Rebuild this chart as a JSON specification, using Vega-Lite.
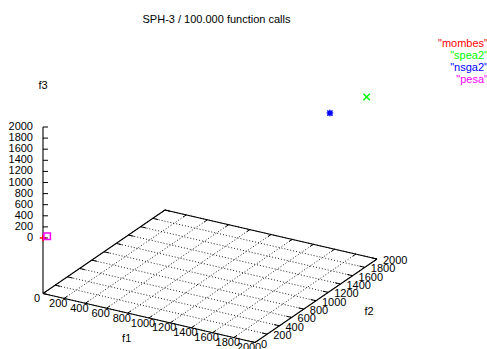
{
  "$schema": "https://vega.github.io/schema/vega-lite/v6.json",
  "width": 487,
  "height": 349,
  "padding": 0,
  "autosize": {"type": "none"},
  "config": {"view": {"stroke": null}, "font": "Liberation Sans"},
  "title": {"text": "SPH-3 / 100.000 function calls", "fontSize": 11, "fontWeight": "normal", "font": "Liberation Sans", "color": "#000", "anchor": "middle", "baseline": "middle", "offset": -18, "dx": -27, "dy": 13},
  "datasets": {
    "ticks": [{"v": 0}, {"v": 200}, {"v": 400}, {"v": 600}, {"v": 800}, {"v": 1000}, {"v": 1200}, {"v": 1400}, {"v": 1600}, {"v": 1800}, {"v": 2000}],
    "edges": [
      {"a1": 0, "a2": 0, "a3": -1000, "b1": 2000, "b2": 0, "b3": -1000},
      {"a1": 2000, "a2": 0, "a3": -1000, "b1": 2000, "b2": 2000, "b3": -1000},
      {"a1": 2000, "a2": 2000, "a3": -1000, "b1": 0, "b2": 2000, "b3": -1000},
      {"a1": 0, "a2": 2000, "a3": -1000, "b1": 0, "b2": 0, "b3": -1000},
      {"a1": 0, "a2": 0, "a3": -1000, "b1": 0, "b2": 0, "b3": 2000}
    ],
    "points": [
      {"series": "mombes", "f1": 0, "f2": 0, "f3": 0},
      {"series": "spea2", "f1": 1938, "f2": 1938, "f3": 1938},
      {"series": "nsga2", "f1": 1718, "f2": 1718, "f3": 1718},
      {"series": "pesa", "f1": 25, "f2": 25, "f3": 25}
    ],
    "axistitles": [
      {"label": "f1", "f1": 1060, "f2": -470, "f3": -1000},
      {"label": "f2", "f1": 2490, "f2": 1017, "f3": -1000},
      {"label": "f3", "f1": 0, "f2": 0, "f3": 2730}
    ]
  },
  "encoding": {
    "x": {"field": "x", "type": "quantitative", "scale": {"domain": [0, 487], "nice": false, "zero": false}, "axis": null},
    "y": {"field": "y", "type": "quantitative", "scale": {"domain": [0, 349], "nice": false, "zero": false, "reverse": true}, "axis": null}
  },
  "layer": [
    {
      "data": {"name": "ticks"},
      "transform": [
        {"calculate": "43 + 0.106*datum.v", "as": "x"},
        {"calculate": "293.5 + 0.0245*datum.v", "as": "y"},
        {"calculate": "43 + 0.106*datum.v + 0.061*2000", "as": "xb"},
        {"calculate": "293.5 + 0.0245*datum.v - 0.04175*2000", "as": "yb"}
      ],
      "mark": {"type": "rule", "color": "#222", "strokeWidth": 1, "strokeDash": [1, 2]},
      "encoding": {"x2": {"field": "xb"}, "y2": {"field": "yb"}}
    },
    {
      "data": {"name": "ticks"},
      "transform": [
        {"calculate": "43 + 0.061*datum.v", "as": "x"},
        {"calculate": "293.5 - 0.04175*datum.v", "as": "y"},
        {"calculate": "43 + 0.106*2000 + 0.061*datum.v", "as": "xb"},
        {"calculate": "293.5 + 0.0245*2000 - 0.04175*datum.v", "as": "yb"}
      ],
      "mark": {"type": "rule", "color": "#222", "strokeWidth": 1, "strokeDash": [1, 2]},
      "encoding": {"x2": {"field": "xb"}, "y2": {"field": "yb"}}
    },
    {
      "data": {"name": "edges"},
      "transform": [
        {"calculate": "43 + 0.106*datum.a1 + 0.061*datum.a2", "as": "x"},
        {"calculate": "293.5 + 0.0245*datum.a1 - 0.04175*datum.a2 - 0.0555*(datum.a3+1000)", "as": "y"},
        {"calculate": "43 + 0.106*datum.b1 + 0.061*datum.b2", "as": "xb"},
        {"calculate": "293.5 + 0.0245*datum.b1 - 0.04175*datum.b2 - 0.0555*(datum.b3+1000)", "as": "yb"}
      ],
      "mark": {"type": "rule", "color": "#000", "strokeWidth": 1.1},
      "encoding": {"x2": {"field": "xb"}, "y2": {"field": "yb"}}
    },
    {
      "data": {"name": "ticks"},
      "transform": [
        {"calculate": "43 + 0.106*datum.v", "as": "x"},
        {"calculate": "293.5 + 0.0245*datum.v", "as": "y"},
        {"calculate": "43 + 0.106*datum.v + 0.061*50", "as": "xb"},
        {"calculate": "293.5 + 0.0245*datum.v - 0.04175*50", "as": "yb"}
      ],
      "mark": {"type": "rule", "color": "#000", "strokeWidth": 1},
      "encoding": {"x2": {"field": "xb"}, "y2": {"field": "yb"}}
    },
    {
      "data": {"name": "ticks"},
      "transform": [
        {"calculate": "43 + 0.106*datum.v + 0.061*2000", "as": "x"},
        {"calculate": "293.5 + 0.0245*datum.v - 0.04175*2000", "as": "y"},
        {"calculate": "43 + 0.106*datum.v + 0.061*1950", "as": "xb"},
        {"calculate": "293.5 + 0.0245*datum.v - 0.04175*1950", "as": "yb"}
      ],
      "mark": {"type": "rule", "color": "#000", "strokeWidth": 1},
      "encoding": {"x2": {"field": "xb"}, "y2": {"field": "yb"}}
    },
    {
      "data": {"name": "ticks"},
      "transform": [
        {"calculate": "43 + 0.106*2000 + 0.061*datum.v", "as": "x"},
        {"calculate": "293.5 + 0.0245*2000 - 0.04175*datum.v", "as": "y"},
        {"calculate": "43 + 0.106*1950 + 0.061*datum.v", "as": "xb"},
        {"calculate": "293.5 + 0.0245*1950 - 0.04175*datum.v", "as": "yb"}
      ],
      "mark": {"type": "rule", "color": "#000", "strokeWidth": 1},
      "encoding": {"x2": {"field": "xb"}, "y2": {"field": "yb"}}
    },
    {
      "data": {"name": "ticks"},
      "transform": [
        {"calculate": "43 + 0.061*datum.v", "as": "x"},
        {"calculate": "293.5 - 0.04175*datum.v", "as": "y"},
        {"calculate": "43 + 0.106*50 + 0.061*datum.v", "as": "xb"},
        {"calculate": "293.5 + 0.0245*50 - 0.04175*datum.v", "as": "yb"}
      ],
      "mark": {"type": "rule", "color": "#000", "strokeWidth": 1},
      "encoding": {"x2": {"field": "xb"}, "y2": {"field": "yb"}}
    },
    {
      "data": {"name": "ticks"},
      "transform": [
        {"calculate": "43", "as": "x"},
        {"calculate": "293.5 - 0.0555*(datum.v+1000)", "as": "y"},
        {"calculate": "48", "as": "xb"}
      ],
      "mark": {"type": "rule", "color": "#000", "strokeWidth": 1},
      "encoding": {"x2": {"field": "xb"}, "y2": {"field": "y"}}
    },
    {
      "data": {"name": "ticks"},
      "transform": [
        {"calculate": "43 + 0.106*datum.v", "as": "x"},
        {"calculate": "293.5 + 0.0245*datum.v", "as": "y"}
      ],
      "mark": {"type": "text", "fontSize": 11, "align": "center", "baseline": "middle", "dx": -6, "dy": 5.5, "color": "#000"},
      "encoding": {"text": {"field": "v", "type": "quantitative", "format": "d"}}
    },
    {
      "data": {"name": "ticks"},
      "transform": [
        {"calculate": "43 + 0.106*2000 + 0.061*datum.v", "as": "x"},
        {"calculate": "293.5 + 0.0245*2000 - 0.04175*datum.v", "as": "y"}
      ],
      "mark": {"type": "text", "fontSize": 11, "align": "left", "baseline": "middle", "dx": 6, "dy": 2, "color": "#000"},
      "encoding": {"text": {"field": "v", "type": "quantitative", "format": "d"}}
    },
    {
      "data": {"name": "ticks"},
      "transform": [
        {"calculate": "43", "as": "x"},
        {"calculate": "293.5 - 0.0555*(datum.v+1000)", "as": "y"}
      ],
      "mark": {"type": "text", "fontSize": 11, "align": "right", "baseline": "middle", "dx": -10, "color": "#000"},
      "encoding": {"text": {"field": "v", "type": "quantitative", "format": "d"}}
    },
    {
      "data": {"name": "axistitles"},
      "transform": [
        {"calculate": "43 + 0.106*datum.f1 + 0.061*datum.f2", "as": "x"},
        {"calculate": "293.5 + 0.0245*datum.f1 - 0.04175*datum.f2 - 0.0555*(datum.f3+1000)", "as": "y"}
      ],
      "mark": {"type": "text", "fontSize": 11, "align": "center", "baseline": "middle", "color": "#000"},
      "encoding": {"text": {"field": "label", "type": "nominal"}}
    },
    {
      "data": {"name": "points"},
      "transform": [
        {"calculate": "43 + 0.106*datum.f1 + 0.061*datum.f2", "as": "x"},
        {"calculate": "293.5 + 0.0245*datum.f1 - 0.04175*datum.f2 - 0.0555*(datum.f3+1000)", "as": "y"}
      ],
      "mark": {"type": "point", "filled": false, "strokeWidth": 1.5, "opacity": 1},
      "encoding": {
        "color": {
          "field": "series", "type": "nominal",
          "scale": {"domain": ["mombes", "spea2", "nsga2", "pesa"], "range": ["#ff0000", "#00ff00", "#0000ff", "#ff00ff"]},
          "legend": {
            "title": null, "orient": "none", "legendX": 477, "legendY": 38.5, "padding": 0,
            "symbolOpacity": 0, "symbolSize": 10, "labelFontSize": 11, "labelFont": "Liberation Sans",
            "labelAlign": "right", "labelOffset": 0, "rowPadding": 0,
            "labelExpr": "'\"' + datum.label + '\"'",
            "labelColor": {"expr": "scale('color', datum.value)"}
          }
        },
        "shape": {
          "field": "series", "type": "nominal",
          "scale": {"domain": ["mombes", "spea2", "nsga2", "pesa"], "range": ["M-1,0L1,0M0,-1L0,1", "M-1,-1L1,1M-1,1L1,-1", "M-1,0L1,0M0,-1L0,1M-0.8,-0.8L0.8,0.8M-0.8,0.8L0.8,-0.8", "square"]},
          "legend": null
        },
        "size": {"value": 42}
      }
    }
  ]
}
